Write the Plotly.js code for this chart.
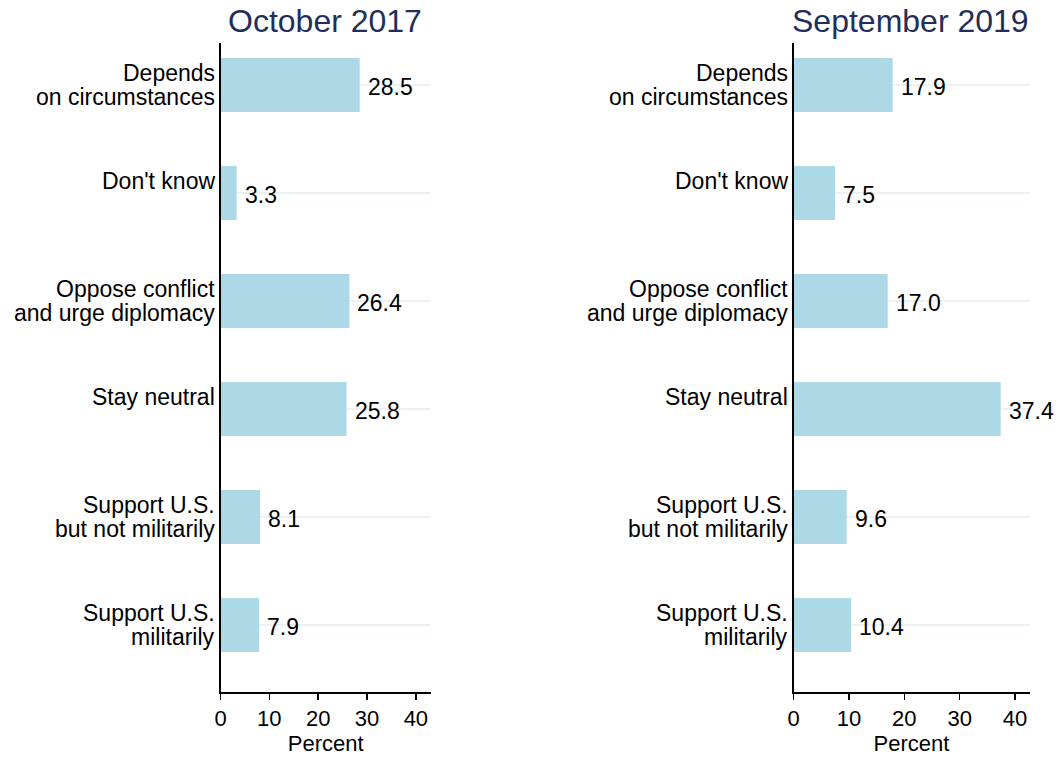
<!DOCTYPE html>
<html>
<head>
<meta charset="utf-8">
<script src="https://cdn.plot.ly/plotly-3.0.1.min.js"></script>
<style>html,body{margin:0;padding:0;background:#fff;}#chart{width:1063px;height:759px;}</style>
</head>
<body>
<div id="chart"></div>
<script>
// ---- data ----
const categories = ["Depends on circumstances", "Don't know", "Oppose conflict and urge diplomacy", "Stay neutral", "Support U.S. but not militarily", "Support U.S. militarily"];
const categoryLabels = ["Depends<br>on circumstances", "Don't know", "Oppose conflict<br>and urge diplomacy", "Stay neutral", "Support U.S.<br>but not militarily", "Support U.S.<br>militarily"];
const values2017 = [28.5, 3.3, 26.4, 25.8, 8.1, 7.9];
const values2019 = [17.9, 7.5, 17.0, 37.4, 9.6, 10.4];
const panelTitles = ["October 2017", "September 2019"];
const xTickVals = [0, 10, 20, 30, 40];
const xAxisTitle = "Percent";

const W = 1063, H = 759;
const FONT = "Liberation Sans, Arial, Helvetica, sans-serif";
const barColor = "#add8e6";
const FS = 22;
const FL = 23;

function bar(vals, xa, ya) {
  return {
    type: "bar", orientation: "h", x: vals, y: categories,
    xaxis: xa, yaxis: ya, width: 0.5,
    marker: {color: barColor, line: {width: 0}},
    hoverinfo: "x+y", showlegend: false
  };
}

const data = [bar(values2017, "x", "y"), bar(values2019, "x2", "y2")];

const annotations = [];
[[values2017, "x", "y"], [values2019, "x2", "y2"]].forEach(([vals, xa, ya]) => {
  vals.forEach((v, i) => {
    annotations.push({
      x: v, y: categories[i], xref: xa, yref: ya,
      text: v.toFixed(1), showarrow: false, xanchor: "left", yanchor: "middle",
      xshift: 6, yshift: -2, font: {family: FONT, size: FL, color: "#000"}
    });
  });
  // category labels, one annotation per line (line pitch 24px, first line 12px above centre)
  categoryLabels.forEach((lab, i) => {
    lab.split("<br>").forEach((line, j) => {
      annotations.push({
        x: 0, xref: xa + " domain", xanchor: "right", xshift: -4,
        y: categories[i], yref: ya, yanchor: "middle", yshift: 12 - 24 * j,
        text: line, showarrow: false, font: {family: FONT, size: FL, color: "#000"}
      });
    });
  });
});
const titleX = [424 / W, 1031 / W];
panelTitles.forEach((t, i) => {
  annotations.push({
    text: t, xref: "paper", x: titleX[i], xanchor: "right",
    yref: "paper", y: 1 - 21 / H, yanchor: "middle", showarrow: false,
    font: {family: FONT, size: 32, color: "#1f2f5a"}
  });
});

const yDomain = [1 - 692 / H, 1 - 43 / H];
function xaxis(d0, d1, rmax, anchor) {
  return {
    domain: [d0 / W, d1 / W], range: [0, rmax], anchor: anchor,
    tickvals: xTickVals, ticks: "outside", ticklen: 6, tickwidth: 1.5, tickcolor: "#000",
    showline: true, linecolor: "#000", linewidth: 1.5, showgrid: false, zeroline: false,
    tickfont: {family: FONT, size: FS, color: "#000"},
    title: {text: xAxisTitle, font: {family: FONT, size: FS, color: "#000"}, standoff: 5},
    fixedrange: true
  };
}
function yaxis(anchor) {
  return {
    domain: yDomain, type: "category", categoryorder: "array", categoryarray: categories,
    range: [5.62, -0.39], anchor: anchor,
    showticklabels: false, ticks: "",
    showline: true, linecolor: "#000", linewidth: 1.5,
    showgrid: true, gridcolor: "#ebf2f4", gridwidth: 2, zeroline: false,
    fixedrange: true
  };
}

const layout = {
  width: W, height: H,
  margin: {l: 0, r: 0, t: 0, b: 0},
  paper_bgcolor: "#fff", plot_bgcolor: "#fff",
  font: {family: FONT, color: "#000"},
  xaxis: xaxis(220.5, 431, 43.1, "y"),
  yaxis: yaxis("x"),
  xaxis2: xaxis(793.5, 1029.5, 42.6, "y2"),
  yaxis2: yaxis("x2"),
  annotations: annotations,
  showlegend: false
};

Plotly.newPlot("chart", data, layout, {displayModeBar: false, staticPlot: true});
</script>
</body>
</html>
